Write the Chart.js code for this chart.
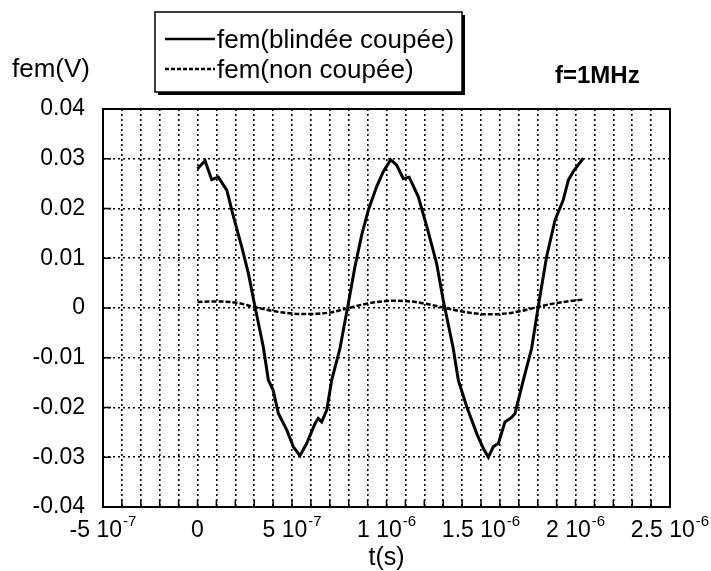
<!DOCTYPE html>
<html>
<head>
<meta charset="utf-8">
<script src="https://cdn.jsdelivr.net/npm/chart.js@4"></script>
<style>
  body { margin: 0; background: #fff; }
  #wrap { width: 711px; height: 571px; }
</style>
</head>
<body>
<div id="wrap"><canvas id="femChart" width="711" height="571"></canvas></div>
<script>
// values (t in microseconds, fem in volts)
const tSolidUs = [0, 0.04, 0.075, 0.11, 0.155, 0.19, 0.234, 0.269, 0.304, 0.348, 0.375, 0.40, 0.428, 0.472, 0.507, 0.542,
  0.578, 0.622, 0.639, 0.657, 0.684, 0.710, 0.754, 0.798, 0.833, 0.869, 0.904, 0.948, 0.983, 1.022, 1.054, 1.089, 1.12,
  1.168, 1.213, 1.265, 1.30, 1.353, 1.38, 1.424, 1.477, 1.512, 1.539, 1.565, 1.592, 1.627, 1.662, 1.68, 1.724, 1.768,
  1.803, 1.847, 1.892, 1.935, 1.962, 1.988, 2.041];
const femBlindee = [0.0280, 0.0296, 0.0258, 0.0263, 0.0237, 0.0184, 0.0123, 0.0070, 0.0003, -0.0078, -0.0145, -0.0165,
  -0.0212, -0.0245, -0.0279, -0.0297, -0.0272, -0.0232, -0.0222, -0.0229, -0.0205, -0.0145, -0.0081, 0.0009, 0.0083,
  0.0147, 0.0197, 0.0244, 0.0274, 0.0298, 0.0287, 0.0260, 0.0263, 0.0224, 0.0164, 0.0090, 0.0016, -0.0081, -0.0145,
  -0.0198, -0.0252, -0.0282, -0.0300, -0.0279, -0.0272, -0.0229, -0.0220, -0.0212, -0.0145, -0.0081, 0.0003, 0.0103,
  0.0177, 0.0217, 0.0257, 0.0274, 0.0301];

const tDashedUs = [0, 0.1, 0.2, 0.3, 0.4, 0.5, 0.6, 0.7, 0.8, 0.9, 1.0, 1.1, 1.2, 1.3, 1.4, 1.5, 1.6, 1.7, 1.8, 1.9, 2.04];
const femNonCoupee = [0.0012, 0.0013, 0.0011, 0.0002, -0.0006, -0.0011, -0.0012, -0.0009, 0.0000, 0.0009, 0.0014,
  0.0014, 0.0009, 0.0001, -0.0007, -0.0012, -0.0012, -0.0007, 0.0002, 0.0010, 0.0017];

const seriesNames = ['fem(blindée coupée)', 'fem(non coupée)'];

const yTickValues = [-0.04, -0.03, -0.02, -0.01, 0, 0.01, 0.02, 0.03, 0.04];
const yTickLabels = ['-0.04', '-0.03', '-0.02', '-0.01', '0', '0.01', '0.02', '0.03', '0.04'];

const xTickValues = [-5e-7, 0, 5e-7, 1e-6, 1.5e-6, 2e-6, 2.5e-6];
const xTickBase = ['-5 10', '0', '5 10', '1 10', '1.5 10', '2 10', '2.5 10'];
const xTickExp = ['-7', '', '-7', '-6', '-6', '-6', '-6'];

const FONT = '"Liberation Sans", Arial, sans-serif';

function toPoints(tUs, v) {
  return tUs.map((t, i) => ({ x: t * 1e-6, y: v[i] }));
}

const decorPlugin = {
  id: 'decor',
  afterDraw(chart) {
    const ctx = chart.ctx;
    const a = chart.chartArea;
    const xs = chart.scales.x;
    const ys = chart.scales.y;
    ctx.save();

    // small inner ticks on left and bottom
    ctx.strokeStyle = '#000';
    ctx.lineWidth = 1.5;
    ctx.setLineDash([]);
    ctx.beginPath();
    ys.ticks.forEach(t => {
      const y = ys.getPixelForValue(t.value);
      ctx.moveTo(a.left, y); ctx.lineTo(a.left + 8, y);
    });
    xs.ticks.forEach(t => {
      const x = xs.getPixelForValue(t.value);
      ctx.moveTo(x, a.bottom); ctx.lineTo(x, a.bottom - 7);
    });
    ctx.stroke();

    // frame
    ctx.lineWidth = 2;
    ctx.strokeRect(a.left, a.top, a.right - a.left, a.bottom - a.top);

    // x tick labels with exponents
    ctx.fillStyle = '#000';
    ctx.textBaseline = 'alphabetic';
    ctx.textAlign = 'left';
    xTickValues.forEach((v, i) => {
      const cx = xs.getPixelForValue(v);
      ctx.font = '23px ' + FONT;
      const wb = ctx.measureText(xTickBase[i]).width;
      ctx.font = '15px ' + FONT;
      const we = xTickExp[i] ? ctx.measureText(xTickExp[i]).width + 1 : 0;
      const x0 = cx - (wb + we) / 2;
      ctx.font = '23px ' + FONT;
      ctx.fillText(xTickBase[i], x0, 537);
      if (xTickExp[i]) {
        ctx.font = '15px ' + FONT;
        ctx.fillText(xTickExp[i], x0 + wb + 1, 526);
      }
    });

    // axis titles and annotation
    ctx.font = '25px ' + FONT;
    ctx.textAlign = 'center';
    ctx.fillText('t(s)', (a.left + a.right) / 2, 565);
    ctx.textAlign = 'left';
    ctx.font = '26px ' + FONT;
    ctx.fillText('fem(V)', 12, 77);
    ctx.font = 'bold 24px ' + FONT;
    ctx.fillText('f=1MHz', 555, 83);

    // legend box with shadow
    const bx = 155, by = 12, bw = 307, bh = 80;
    ctx.fillStyle = '#000';
    ctx.fillRect(bx + 3, by + 3, bw, bh);
    ctx.fillStyle = '#fff';
    ctx.fillRect(bx, by, bw, bh);
    ctx.lineWidth = 1.5;
    ctx.strokeRect(bx, by, bw, bh);

    ctx.strokeStyle = '#000';
    ctx.lineWidth = 2.5;
    ctx.beginPath();
    ctx.moveTo(165, 39); ctx.lineTo(215, 39);
    ctx.stroke();
    ctx.setLineDash([4, 2]);
    ctx.beginPath();
    ctx.moveTo(165, 69); ctx.lineTo(215, 69);
    ctx.stroke();
    ctx.setLineDash([]);

    ctx.fillStyle = '#000';
    ctx.font = '26px ' + FONT;
    ctx.fillText(seriesNames[0], 217, 48);
    ctx.fillText(seriesNames[1], 217, 78);

    ctx.restore();
  }
};

const gridStyle = {
  color: '#000',
  lineWidth: 1.6,
  drawTicks: false
};

new Chart(document.getElementById('femChart'), {
  type: 'line',
  data: {
    datasets: [
      {
        label: seriesNames[0],
        data: toPoints(tSolidUs, femBlindee),
        borderColor: '#000',
        borderWidth: 3,
        pointRadius: 0,
        tension: 0
      },
      {
        label: seriesNames[1],
        data: toPoints(tDashedUs, femNonCoupee),
        borderColor: '#000',
        borderWidth: 2.5,
        borderDash: [5, 2],
        pointRadius: 0,
        tension: 0.4
      }
    ]
  },
  options: {
    responsive: false,
    animation: false,
    layout: { padding: { left: 0, top: 109, right: 41, bottom: 0 } },
    plugins: {
      legend: { display: false },
      tooltip: { enabled: false }
    },
    scales: {
      x: {
        type: 'linear',
        min: -5e-7,
        max: 2.5e-6,
        ticks: { display: false, stepSize: 1e-7 },
        grid: gridStyle,
        border: { display: false, dash: [2, 3] },
        afterFit(scale) { scale.height = 64; }
      },
      y: {
        min: -0.04,
        max: 0.04,
        afterBuildTicks(scale) {
          scale.ticks = yTickValues.map(v => ({ value: v }));
        },
        ticks: {
          color: '#000',
          font: { family: FONT, size: 23 },
          padding: 18,
          callback: function(value) {
            const i = yTickValues.findIndex(v => Math.abs(v - value) < 1e-9);
            return i >= 0 ? yTickLabels[i] : '';
          }
        },
        grid: gridStyle,
        border: { display: false, dash: [2, 3] },
        afterFit(scale) { scale.width = 103; }
      }
    }
  },
  plugins: [decorPlugin]
});
</script>
</body>
</html>
